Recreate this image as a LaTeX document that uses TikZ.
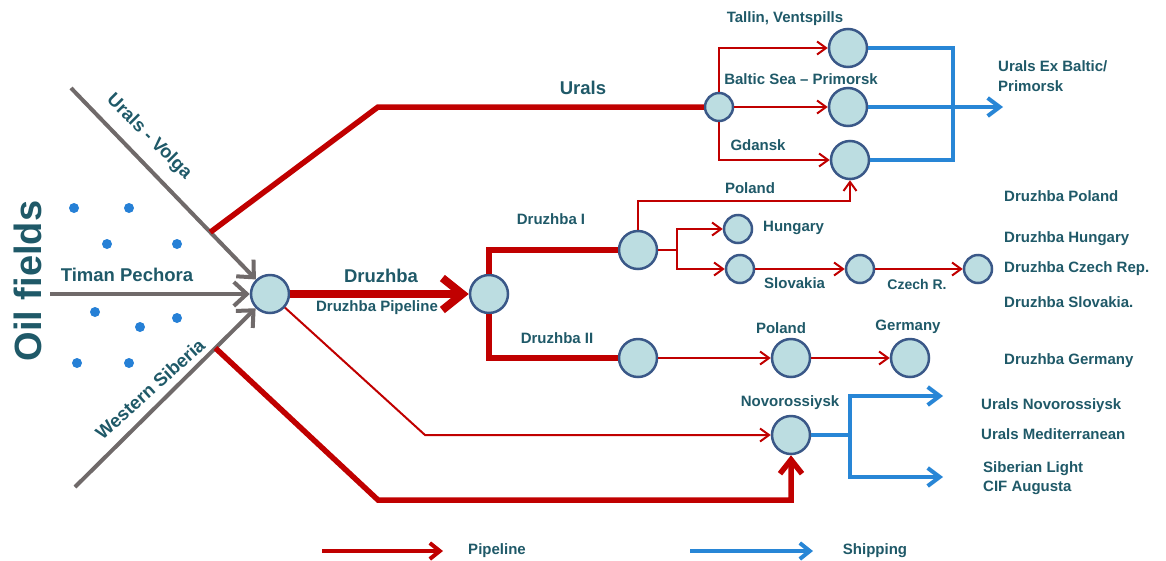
\documentclass[tikz,border=0pt]{standalone}
\usepackage{fontspec}
\setmainfont{Liberation Sans}
\usetikzlibrary{arrows.meta,calc}
\definecolor{tealtxt}{RGB}{31,89,104}
\definecolor{pred}{RGB}{192,0,0}
\definecolor{sblue}{RGB}{40,134,214}
\definecolor{ggray}{RGB}{112,106,106}
\definecolor{nfill}{RGB}{188,221,225}
\definecolor{nedge}{RGB}{58,88,136}
\definecolor{dotb}{RGB}{38,128,214}
\begin{document}
\begin{tikzpicture}[x=1pt,y=-1pt,
  hubnode/.style={circle,draw=nedge,fill=nfill,line width=2.5pt,inner sep=0pt,minimum size=38pt},
  smallnode/.style={hubnode,minimum size=28pt},
  lab/.style={text=tealtxt,font=\fontsize{15}{17}\selectfont\bfseries,inner sep=1pt},
  biglab/.style={text=tealtxt,font=\fontsize{18.5}{20}\selectfont\bfseries,inner sep=1pt},
  srclab/.style={text=tealtxt,font=\fontsize{18.5}{20}\selectfont\bfseries,inner sep=0pt},
  redthin/.style={draw=pred,line width=2pt},
  redthinarrow/.style={redthin,-{Straight Barb[length=9pt,width=13pt]}},
  redthick/.style={draw=pred,line width=5.5pt},
  redthickarrow/.style={redthick,-{Straight Barb[length=14pt,width=22pt]}},
  druzhbaarrow/.style={draw=pred,line width=8pt,-{Straight Barb[length=20pt,width=32pt]}},
  grayarrow/.style={draw=ggray,line width=4pt,-{Straight Barb[length=13pt,width=24pt]}},
  blueline/.style={draw=sblue,line width=4pt},
  bluearrow/.style={blueline,-{Straight Barb[length=12pt,width=18pt]}},
  legred/.style={draw=pred,line width=4pt,-{Straight Barb[length=10pt,width=16pt]}},
  legblue/.style={draw=sblue,line width=4pt,-{Straight Barb[length=10pt,width=16pt]}},
]
\useasboundingbox (0,0) rectangle (1166,560);

% nodes
\node[hubnode] (hub) at (270,294) {};
\node[smallnode] (U) at (719,107) {};
\node[hubnode] (T) at (848,48) {};
\node[hubnode] (P) at (848,107) {};
\node[hubnode] (G) at (850,160) {};
\node[hubnode] (D) at (489,294) {};
\node[hubnode] (D1) at (638,250) {};
\node[smallnode] (Hu) at (738,229) {};
\node[smallnode] (Sk) at (740,269) {};
\node[smallnode] (Cz) at (860,269) {};
\node[smallnode] (Cr) at (978,269) {};
\node[hubnode] (D2) at (638,358) {};
\node[hubnode] (Pl2) at (791,358) {};
\node[hubnode] (Ge) at (910,358) {};
\node[hubnode] (N) at (791,435) {};

% dots
\foreach \p in {(74,208),(129,208),(107,244),(177,244),(95,312),(140,327),(177,318),(77,363),(129,363)}
  \fill[dotb] \p circle (5pt);

% gray source arrows
\coordinate (uv) at (71,88);
\coordinate (tp) at (50,294);
\coordinate (ws) at (75,487);
\draw[grayarrow] (uv) -- (hub);
\draw[grayarrow] (tp) -- (hub);
\draw[grayarrow] (ws) -- (hub);

% thick red Urals
\coordinate (us) at ($(uv)!0.70!(hub)$);
\coordinate (uc) at (378,107);
\draw[redthick] (us) -- (uc) -- (U);
% thick red lower to Novorossiysk
\coordinate (ls) at ($(ws)!0.72!(hub)$);
\coordinate (lc1) at (378,500);
\coordinate (lc2) at (791,500);
\draw[redthickarrow] (ls) -- (lc1) -- (lc2) -- (N);
% thin red hub to Novorossiysk
\coordinate (tc) at (425,435);
\draw[redthinarrow] (hub) -- (tc) -- (N);

% Druzhba
\draw[druzhbaarrow] (hub) -- (D);
\draw[redthick] (D.north) |- (D1);
\draw[redthick] (D.south) |- (D2);

% Urals branches
\draw[redthinarrow] (U.north) |- (T);
\draw[redthinarrow] (U) -- (P);
\draw[redthinarrow] (U.south) |- (G);

% Druzhba I branches
\coordinate (pc1) at (638,201);
\coordinate (pc2) at (850,201);
\draw[redthinarrow] (D1.north) -- (pc1) -- (pc2) -- (G.south);
\coordinate (br) at (677,250);
\draw[redthin] (D1) -- (br);
\draw[redthinarrow] (br) |- (Hu);
\draw[redthinarrow] (br) |- (Sk);
\draw[redthinarrow] (Sk) -- (Cz);
\draw[redthinarrow] (Cz) -- (Cr);
% Druzhba II
\draw[redthinarrow] (D2) -- (Pl2);
\draw[redthinarrow] (Pl2) -- (Ge);

% shipping Baltic
\coordinate (bt) at (953,48);
\coordinate (bb) at (953,160);
\coordinate (be) at (1003,107);
\draw[blueline] (T) -- (bt) -- (bb) -- (G);
\draw[bluearrow] (P) -- (be);
% shipping Novorossiysk
\coordinate (nj) at (850,435);
\coordinate (n1) at (943,396);
\coordinate (n2) at (943,477);
\draw[blueline] (N) -- (nj);
\draw[bluearrow] (nj) |- (n1);
\draw[bluearrow] (nj) |- (n2);

% labels
\node[text=tealtxt,font=\fontsize{38}{40}\selectfont\bfseries,rotate=90,inner sep=0pt] (oil) at (28,281) {Oil fields};
\node[srclab,rotate=-45] (lUV) at (149,137) {Urals - Volga};
\node[srclab] (lTP) at (127,275) {Timan Pechora};
\node[srclab,rotate=42] (lWS) at (150,389) {Western Siberia};
\node[biglab] (lUr) at (583,88) {Urals};
\node[biglab] (lDr) at (381,276) {Druzhba};
\node[lab] (lDP) at (377,308) {Druzhba Pipeline};
\node[lab] (lTV) at (785,19) {Tallin, Ventspills};
\node[lab] (lBS) at (801,79) {Baltic Sea – Primorsk};
\node[lab] (lGd) at (758,145) {Gdansk};
\node[lab,anchor=west] (lEx1) at (997,66) {Urals Ex Baltic/};
\node[lab,anchor=west] (lEx2) at (997,86) {Primorsk};
\node[lab] (lPo1) at (750,188) {Poland};
\node[lab,anchor=west] (lDPo) at (1003,196) {Druzhba Poland};
\node[lab] (lD1) at (551,219) {Druzhba I};
\node[lab,anchor=west] (lHu) at (762,228) {Hungary};
\node[lab,anchor=west] (lDHu) at (1003,239) {Druzhba Hungary};
\node[lab,anchor=west] (lSk) at (763,283) {Slovakia};
\node[lab,font=\fontsize{14}{16}\selectfont\bfseries] (lCz) at (917,284) {Czech R.};
\node[lab,anchor=west] (lDCz) at (1003,269) {Druzhba Czech Rep.};
\node[lab,anchor=west] (lDSk) at (1003,302) {Druzhba Slovakia.};
\node[lab] (lD2) at (557,338) {Druzhba II};
\node[lab] (lPo2) at (781,328) {Poland};
\node[lab] (lGe) at (908,327) {Germany};
\node[lab,anchor=west] (lDGe) at (1003,361) {Druzhba Germany};
\node[lab] (lNo) at (790,403) {Novorossiysk};
\node[lab,anchor=west] (lUN) at (980,406) {Urals Novorossiysk};
\node[lab,anchor=west] (lUM) at (980,434) {Urals Mediterranean};
\node[lab,anchor=west] (lSL) at (982,469) {Siberian Light};
\node[lab,anchor=west] (lCIF) at (982,488) {CIF Augusta};

% legend
\coordinate (lr1) at (322,551);
\coordinate (lr2) at (443,551);
\coordinate (lb1) at (690,551);
\coordinate (lb2) at (813,551);
\draw[legred] (lr1) -- (lr2);
\draw[legblue] (lb1) -- (lb2);
\node[lab] (lPi) at (497,551) {Pipeline};
\node[lab] (lSh) at (875,551) {Shipping};
\end{tikzpicture}
\end{document}
